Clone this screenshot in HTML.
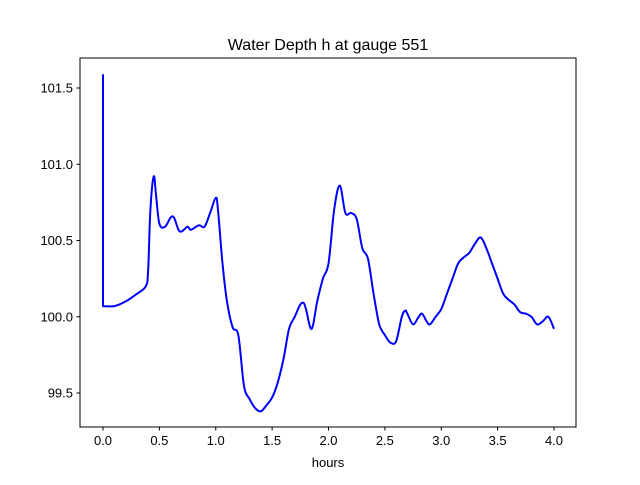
<!DOCTYPE html>
<html><head><meta charset="utf-8"><style>
body{margin:0;background:#fff;}
svg text{font-family:"Liberation Sans","DejaVu Sans",sans-serif;fill:#000;}
</style></head><body>
<svg id="chart" width="640" height="480" viewBox="0 0 640 480" xmlns="http://www.w3.org/2000/svg">
<rect width="640" height="480" fill="#fff"/>
<text x="328" y="50" font-size="16" text-anchor="middle">Water Depth h at gauge 551</text>
<text x="328" y="467" font-size="13" text-anchor="middle">hours</text>
<g id="axes"></g>
<rect x="80" y="58" width="496" height="369" fill="none" stroke="#000" stroke-width="1"/>
</svg>
<script>
const hours = [0,0,0.1,0.2,0.3,0.38,0.4,0.42,0.45,0.47,0.5,0.55,0.6,0.63,0.67,0.7,0.75,0.78,0.85,0.9,0.95,1.0,1.02,1.06,1.1,1.15,1.2,1.25,1.3,1.35,1.4,1.45,1.5,1.55,1.6,1.65,1.7,1.75,1.78,1.8,1.85,1.9,1.95,2.0,2.05,2.1,2.15,2.2,2.25,2.3,2.35,2.4,2.45,2.5,2.55,2.6,2.65,2.68,2.7,2.75,2.8,2.83,2.87,2.9,2.95,3.0,3.05,3.1,3.15,3.2,3.25,3.3,3.35,3.4,3.45,3.5,3.55,3.6,3.65,3.7,3.75,3.8,3.85,3.9,3.95,4.0];
const depth = [101.59,100.07,100.07,100.1,100.15,100.2,100.3,100.7,100.92,100.8,100.61,100.59,100.65,100.65,100.57,100.56,100.59,100.57,100.6,100.59,100.68,100.78,100.7,100.35,100.1,99.93,99.88,99.55,99.46,99.4,99.38,99.42,99.47,99.57,99.72,99.92,100.0,100.08,100.09,100.05,99.92,100.1,100.25,100.35,100.7,100.86,100.68,100.68,100.64,100.45,100.38,100.15,99.95,99.88,99.83,99.84,100.0,100.04,100.02,99.95,100.0,100.02,99.97,99.95,100.0,100.05,100.15,100.25,100.35,100.39,100.42,100.48,100.52,100.45,100.35,100.25,100.15,100.11,100.08,100.03,100.02,100.0,99.95,99.97,100.0,99.92];
const xTicks = [0.0,0.5,1.0,1.5,2.0,2.5,3.0,3.5,4.0];
const yTicks = [99.5,100.0,100.5,101.0,101.5];
const NS="http://www.w3.org/2000/svg";
function xs(v){return 103 + v*112.75;}
function ys(v){return 393 - (v-99.5)*152.5;}
const g=document.getElementById('axes');
function mk(tag,attrs){const e=document.createElementNS(NS,tag);for(const k in attrs)e.setAttribute(k,attrs[k]);return e;}
xTicks.forEach(t=>{
  const l=mk('line',{x1:xs(t),x2:xs(t),y1:427,y2:430.5,stroke:'#000'});
  
  
  g.appendChild(l);
  const tx=mk('text',{x:xs(t),y:445,'font-size':13,'text-anchor':'middle'});
  
  
  tx.textContent=t.toFixed(1);g.appendChild(tx);
});
yTicks.forEach(t=>{
  const l=mk('line',{x1:76.5,x2:80,y1:ys(t),y2:ys(t),stroke:'#000'});
  
  
  g.appendChild(l);
  const tx=mk('text',{x:73,y:ys(t)+4.5,'font-size':13,'text-anchor':'end'});
  
  
  tx.textContent=t.toFixed(1);g.appendChild(tx);
});
const P=hours.map((h,i)=>[xs(h),ys(depth[i])]);
let d='M'+P[0][0].toFixed(1)+','+P[0][1].toFixed(1)+' L'+P[1][0].toFixed(1)+','+P[1][1].toFixed(1);
for(let i=1;i<P.length-1;i++){
  const p0=P[Math.max(1,i-1)],p1=P[i],p2=P[i+1],p3=P[Math.min(P.length-1,i+2)];
  const c1=[p1[0]+(p2[0]-p0[0])/6,p1[1]+(p2[1]-p0[1])/6];
  const c2=[p2[0]-(p3[0]-p1[0])/6,p2[1]-(p3[1]-p1[1])/6];
  d+=' C'+c1[0].toFixed(1)+','+c1[1].toFixed(1)+' '+c2[0].toFixed(1)+','+c2[1].toFixed(1)+' '+p2[0].toFixed(1)+','+p2[1].toFixed(1);
}
const pl=mk('path',{d:d,fill:'none',stroke:'#0000ff','stroke-width':2,'stroke-linejoin':'round'});


g.appendChild(pl);
</script>
</body></html>
